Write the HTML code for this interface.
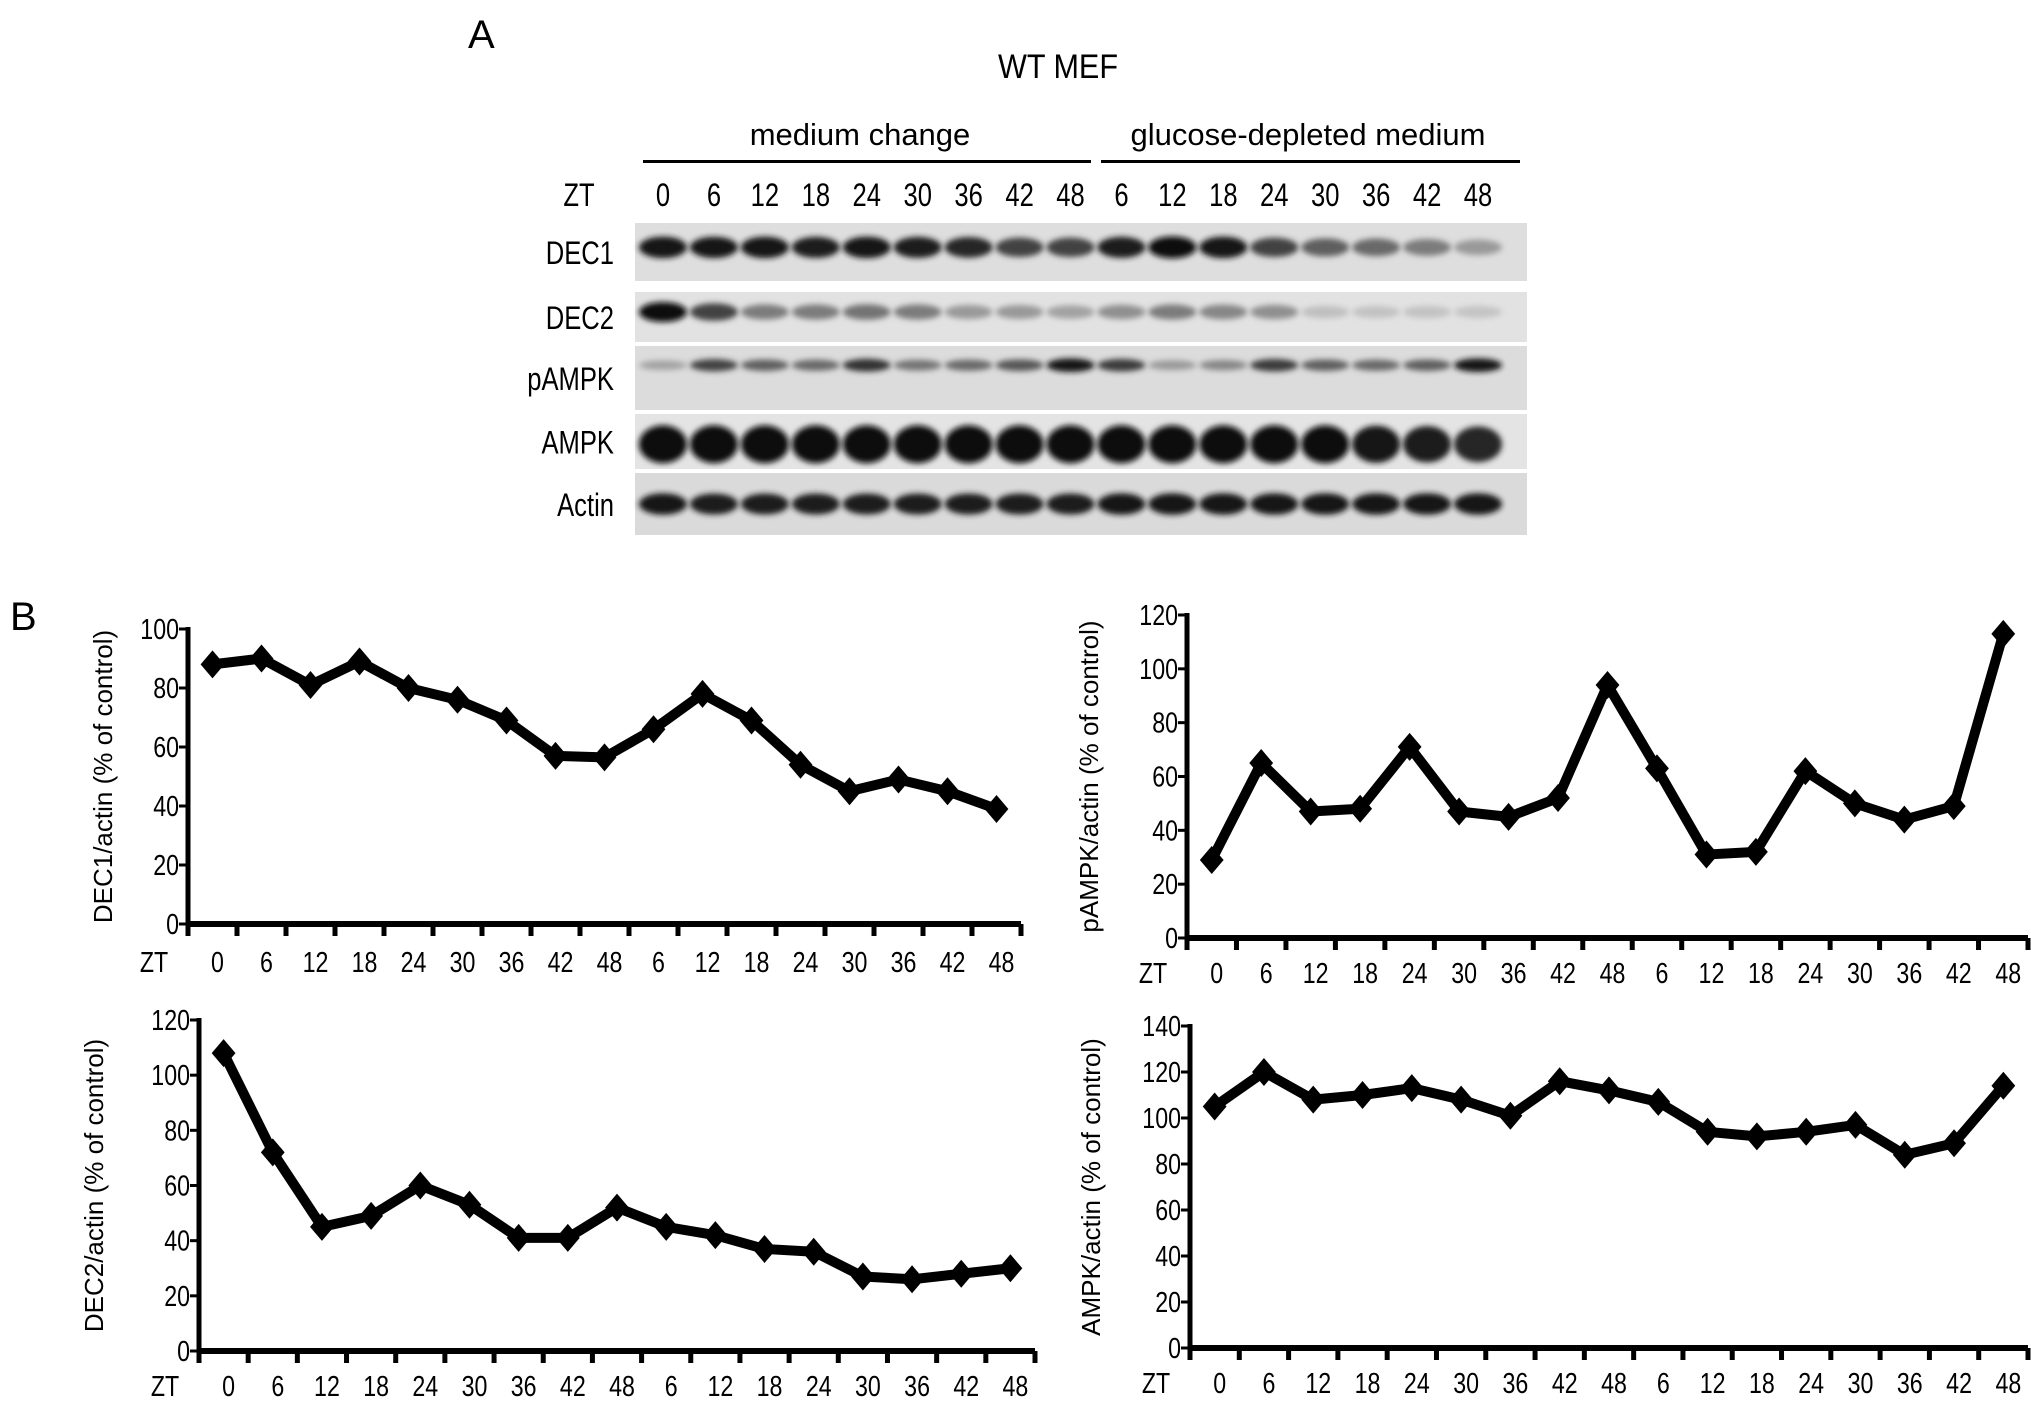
<!DOCTYPE html>
<html><head><meta charset="utf-8">
<style>
html,body{margin:0;padding:0;background:#fff;}
svg{display:block;}
text{font-family:"Liberation Sans",sans-serif;fill:#000;}
</style></head>
<body>
<svg id="fig" width="2031" height="1404" viewBox="0 0 2031 1404" xmlns="http://www.w3.org/2000/svg">
<defs>
<filter id="blur" x="-30%" y="-60%" width="160%" height="220%"><feGaussianBlur stdDeviation="3"/></filter>
</defs>
<text x="468" y="48" font-size="40">A</text>
<text x="1058" y="78" font-size="34" text-anchor="middle" transform="translate(1058,0) scale(0.9,1) translate(-1058,0)">WT MEF</text>
<text x="860" y="145" font-size="31" text-anchor="middle">medium change</text>
<text x="1308" y="145" font-size="31" text-anchor="middle">glucose-depleted medium</text>
<rect x="643" y="160" width="448" height="3" fill="#000"/>
<rect x="1101" y="160" width="419" height="3" fill="#000"/>
<g id="blots"></g>
<text x="10" y="630" font-size="40">B</text>
<g id="charts"></g>
</svg>
<script>
// ---- chart data ----
const zt = ["0","6","12","18","24","30","36","42","48","6","12","18","24","30","36","42","48"];
const dec1 = [88,90,81,89,80,76,69,57,56.5,66,78,69,54,45,49,45,39];
const pampk = [29,65,47,48,71,47,45,52,94,63,31,32,62,50,44,49,113];
const dec2 = [108,72,45,49,60,53,41,41,52,45,42,37,36,27,26,28,30];
const ampk = [105,120,108,110,113,108,101,116,112,107,94,92,94,97,84,89,114];
const ticksA = [0,20,40,60,80,100];
const ticksB = [0,20,40,60,80,100,120];
const ticksC = [0,20,40,60,80,100,120,140];
// blot intensities (0..1) per lane
const bDec1 = [0.95,0.92,0.95,0.9,0.95,0.9,0.85,0.7,0.7,0.9,1,0.95,0.7,0.55,0.5,0.4,0.25];
const bDec2 = [1,0.7,0.4,0.4,0.45,0.4,0.25,0.25,0.2,0.3,0.4,0.35,0.3,0.05,0.03,0.03,0.02];
const bPampk = [0.2,0.7,0.55,0.5,0.8,0.45,0.5,0.6,0.95,0.75,0.25,0.35,0.75,0.55,0.5,0.55,0.95];
const bAmpk = [1,1,1,1,1,1,1,1,1,1,1,1,1,1,0.95,0.9,0.85];
const bActin = [0.95,0.9,0.9,0.9,0.9,0.9,0.9,0.9,0.9,0.95,0.95,0.95,0.95,0.95,0.95,0.95,0.95];

const NS='http://www.w3.org/2000/svg';
function mk(tag,attrs,parent){const e=document.createElementNS(NS,tag);for(const k in attrs)e.setAttribute(k,attrs[k]);parent.appendChild(e);return e;}
function ntext(parent,x,y,size,anchor,str){
 const e=mk('text',{x:0,y:0,'font-size':size,'text-anchor':anchor,transform:`translate(${x},${y}) scale(0.8,1)`},parent);
 e.textContent=str;return e;
}

// ---- blot ----
const blots=document.getElementById('blots');
const lx0=663, lx1=1478;
function laneX(i){return lx0+(lx1-lx0)*i/(zt.length-1);}
ntext(blots,579,206,32,'middle','ZT');
zt.forEach((t,i)=>{const e=ntext(blots,laneX(i),206,32,'middle',t);

});
const strips=[
 {name:'DEC1',y:223,h:58,d:bDec1,bh:22,by:0.42,bg:'#dedede'},
 {name:'DEC2',y:292,h:50,d:bDec2,bh:20,by:0.4,bg:'#e2e2e2'},
 {name:'pAMPK',y:346,h:64,d:bPampk,bh:14,by:0.3,bg:'#dcdcdc'},
 {name:'AMPK',y:414,h:55,d:bAmpk,bh:38,by:0.55,bg:'#e4e4e4'},
 {name:'Actin',y:473,h:62,d:bActin,bh:22,by:0.5,bg:'#dadada'}];
strips.forEach(s=>{
 const g=mk('g',{},blots);
 
 
 mk('rect',{x:635,y:s.y,width:892,height:s.h,fill:s.bg},g);
 ntext(g,614,s.y+s.h/2+12,32,'end',s.name);
 s.d.forEach((v,i)=>{
  const c=Math.round(200-190*v);
  mk('ellipse',{cx:laneX(i),cy:s.y+s.h*s.by,rx:24,ry:s.bh/2*(0.6+0.4*v),fill:`rgb(${c},${c},${c})`,filter:'url(#blur)'},g);
 });
});

// ---- line charts ----
const charts=document.getElementById('charts');
function chart(cfg){
 const g=mk('g',{},charts);
 
 
 const n=zt.length, bw=(cfg.x1-cfg.x0)/n;
 const ymax=cfg.ticks[cfg.ticks.length-1];
 const X=i=>cfg.x0+bw*(i+0.5);
 const Y=v=>cfg.yb-(cfg.yb-cfg.yt)*v/ymax;
 mk('line',{x1:cfg.x0,y1:cfg.yt-2,x2:cfg.x0,y2:cfg.yb+2,stroke:'#000','stroke-width':5},g);
 mk('line',{x1:cfg.x0-2,y1:cfg.yb,x2:cfg.x1,y2:cfg.yb,stroke:'#000','stroke-width':6},g);
 cfg.ticks.forEach(t=>{
  mk('line',{x1:cfg.x0-9,y1:Y(t),x2:cfg.x0,y2:Y(t),stroke:'#000','stroke-width':3},g);
  const e=ntext(g,cfg.x0-9,Y(t)+10,29,'end',String(t));
  
  
 });
 for(let k=0;k<=n;k++) mk('line',{x1:cfg.x0+bw*k,y1:cfg.yb,x2:cfg.x0+bw*k,y2:cfg.yb+12,stroke:'#000','stroke-width':5},g);
 zt.forEach((t,i)=>{const e=ntext(g,X(i)+5,cfg.ly,29,'middle',t);
  
  });
 ntext(g,cfg.x0-34,cfg.ly,29,'middle','ZT');
 const yt=mk('text',{x:0,y:0,'font-size':26,'text-anchor':'middle',transform:`translate(${cfg.tx},${(cfg.yt+cfg.yb)/2}) rotate(-90)`},g);
 yt.textContent=cfg.title;
 
 
 const pts=cfg.data.map((v,i)=>X(i)+','+Y(v)).join(' ');
 const pl=mk('polyline',{points:pts,fill:'none',stroke:'#000','stroke-width':10,'stroke-linejoin':'round'},g);
 
 
 cfg.data.forEach((v,i)=>{const x=X(i),y=Y(v),r=14;
  const p=mk('polygon',{points:`${x},${y-r} ${x+r*0.85},${y} ${x},${y+r} ${x-r*0.85},${y}`,fill:'#000'},g);
  
  });
}
chart({name:'dec1-chart',data:dec1,ticks:ticksA,x0:188,x1:1021,yt:629,yb:924,ly:972,tx:112,title:'DEC1/actin (% of control)'});
chart({name:'pampk-chart',data:pampk,ticks:ticksB,x0:1187,x1:2028,yt:615,yb:938,ly:983,tx:1098,title:'pAMPK/actin (% of control)'});
chart({name:'dec2-chart',data:dec2,ticks:ticksB,x0:199,x1:1035,yt:1020,yb:1351,ly:1396,tx:103,title:'DEC2/actin (% of control)'});
chart({name:'ampk-chart',data:ampk,ticks:ticksC,x0:1190,x1:2028,yt:1026,yb:1348,ly:1393,tx:1100,title:'AMPK/actin (% of control)'});
</script>
</body></html>
